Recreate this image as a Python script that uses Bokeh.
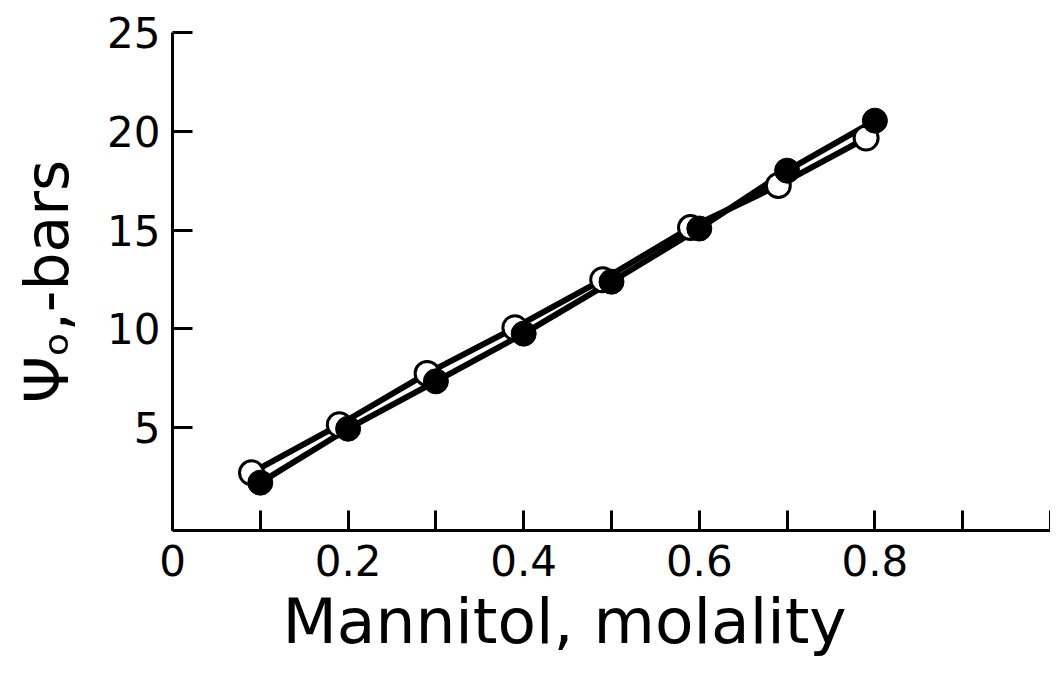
from bokeh.plotting import figure
from bokeh.models import FixedTicker, Range1d, Title
from bokeh.embed import file_html
from bokeh.resources import INLINE

# ---- data ----
x_open = [0.09, 0.19, 0.29, 0.39, 0.49, 0.59, 0.69, 0.79]
y_open = [2.72, 5.15, 7.75, 10.06, 12.49, 15.13, 17.26, 19.66]
x_filled = [0.10, 0.20, 0.30, 0.40, 0.50, 0.60, 0.70, 0.80]
y_filled = [2.22, 4.95, 7.35, 9.76, 12.39, 15.08, 18.01, 20.54]

x_ticks = [0, 0.1, 0.2, 0.3, 0.4, 0.5, 0.6, 0.7, 0.8, 0.9, 1.0]
x_tick_labels = ["0", "", "0.2", "", "0.4", "", "0.6", "", "0.8", "", ""]
y_ticks = [5, 10, 15, 20, 25]
y_tick_labels = ["5", "10", "15", "20", "25"]

x_label = "Mannitol, molality"
y_label = "Ψₒ,-bars"

FONT = "DejaVu Sans"

p = figure(width=1050, height=667, output_backend="svg", toolbar_location=None,
           x_range=Range1d(0, 1.0), y_range=Range1d(-0.2, 25))
p.min_border_left = 172
p.min_border_right = 0
p.min_border_top = 32
p.min_border_bottom = 137
p.outline_line_color = None
p.grid.visible = False
p.background_fill_color = "white"
p.border_fill_color = "white"

# lines
p.line(x_open, y_open, line_color="black", line_width=6)
p.line(x_filled, y_filled, line_color="black", line_width=6)
# markers
p.scatter(x_open, y_open, size=24, fill_color="white", line_color="black", line_width=3)
p.scatter(x_filled, y_filled, size=25, fill_color="black", line_color="black", line_width=1)

# x axis
xa = p.xaxis[0]
xa.ticker = FixedTicker(ticks=x_ticks)
xa.major_label_overrides = {t: l for t, l in zip(x_ticks, x_tick_labels)}
xa.minor_tick_line_color = None
xa.major_tick_in = 20
xa.major_tick_out = 0
xa.major_tick_line_width = 3
xa.axis_line_width = 3
xa.major_label_text_font = FONT
xa.major_label_text_font_size = "42px"
xa.major_label_text_color = "black"
xa.major_label_standoff = 14

# x axis title, placed slightly left of centre as in the reference
p.add_layout(Title(text=x_label, align="left", offset=110, standoff=8,
                   text_font=FONT, text_font_size="63px", text_font_style="normal",
                   text_color="black"), "below")

# y axis
ya = p.yaxis[0]
ya.ticker = FixedTicker(ticks=y_ticks)
ya.major_label_overrides = {t: l for t, l in zip(y_ticks, y_tick_labels)}
ya.minor_tick_line_color = None
ya.major_tick_in = 20
ya.major_tick_out = 0
ya.major_tick_line_width = 3
ya.axis_line_width = 3
ya.major_label_text_font = FONT
ya.major_label_text_font_size = "42px"
ya.major_label_text_color = "black"
ya.major_label_standoff = 12
ya.axis_label = y_label
ya.axis_label_text_font = FONT
ya.axis_label_text_font_size = "60px"
ya.axis_label_text_font_style = "normal"
ya.axis_label_text_color = "black"
ya.axis_label_standoff = 22

open("out.html", "w").write(file_html(p, INLINE))
